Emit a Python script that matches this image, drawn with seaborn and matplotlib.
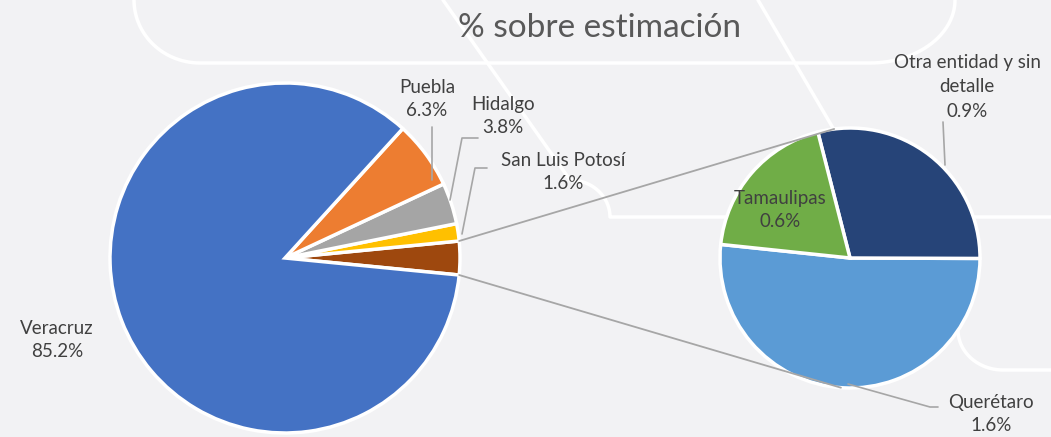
import numpy as np
import matplotlib
matplotlib.use("Agg")
import matplotlib.pyplot as plt
import seaborn as sns

# main pie (first item is the "other" slice broken out into the second pie)
main_labels = ['Otras', 'San Luis Potosí', 'Hidalgo', 'Puebla', 'Veracruz']
main_values = [3.1, 1.6, 3.8, 6.3, 85.2]
main_colors = ['#9E480E', '#FFC000', '#A5A5A5', '#ED7D31', '#4472C4']

# second pie
sub_labels = ['Querétaro', 'Otra entidad y sin\ndetalle', 'Tamaulipas']
sub_values = [1.6, 0.9, 0.6]
sub_colors = ['#5B9BD5', '#264478', '#70AD47']

title = '% sobre estimación'

sns.set_theme(style="white")
plt.rcParams['font.family'] = ['Lato', 'DejaVu Sans']

W, H = 1051, 437
bg = '#f2f2f4'
fig = plt.figure(figsize=(W / 100, H / 100), dpi=100, facecolor=bg)
ax = fig.add_axes([0, 0, 1, 1])
ax.set_facecolor(bg)


def py(y):
    return H - y


# decorative white background curves
t = np.linspace(0, np.pi / 2, 30)
bx = list(134 + 66 * (1 - np.cos(t))) + [870] + list(870 + 85 * np.sin(t))
byy = list(63 * np.sin(t)) + [63] + list(63 * np.cos(t))
ax.plot(bx, [py(v) for v in byy], color='white', lw=2.5, zorder=0)
bx2 = [443, 570] + list(570 + 40 * np.sin(t)) + [W]
by2 = [0, 180] + list(180 + 37 * (1 - np.cos(t))) + [217]
ax.plot(bx2, [py(v) for v in by2], color='white', lw=2.5, zorder=0)
ax.plot([758, 840], [py(0), py(140)], color='white', lw=2.5, zorder=0)
bx3 = list(958 + 45 * (1 - np.cos(t))) + [W]
by3 = list(330 + 40 * np.sin(t)) + [370]
ax.plot(bx3, [py(v) for v in by3], color='white', lw=2.5, zorder=0)

c1, r1 = (285, py(258)), 175
c2, r2 = (850, py(258)), 130

wprops = dict(edgecolor='white', linewidth=2.5)
w1, _ = ax.pie(main_values, colors=main_colors, center=c1, radius=r1,
               startangle=-main_values[0] * 3.6 / 2, counterclock=True,
               wedgeprops=wprops, frame=True)
w2, _ = ax.pie(sub_values, colors=sub_colors, center=c2, radius=r2,
               startangle=174, counterclock=True, wedgeprops=wprops, frame=True)

# connector lines from the "other" slice to the second pie
a_top, a_bot = np.radians(w1[0].theta2), np.radians(w1[0].theta1)
p1 = (c1[0] + r1 * np.cos(a_top), c1[1] + r1 * np.sin(a_top))
p2 = (c1[0] + r1 * np.cos(a_bot), c1[1] + r1 * np.sin(a_bot))
q1 = (c2[0] + r2 * np.cos(np.radians(97)), c2[1] + r2 * np.sin(np.radians(97)))
q2 = (c2[0] + r2 * np.cos(np.radians(266)), c2[1] + r2 * np.sin(np.radians(266)))
lc = '#a6a6a6'
ax.plot([p1[0], q1[0]], [p1[1], q1[1]], color=lc, lw=1.3, zorder=1)
ax.plot([p2[0], q2[0]], [p2[1], q2[1]], color=lc, lw=1.3, zorder=1)

tc = '#404040'
fs = 13.5


def lab(x, y, name, val):
    ax.text(x, py(y), f"{name}\n{val:.1f}%", ha='center', va='center',
            fontsize=fs, color=tc, linespacing=1.4, zorder=5)


lab(57, 340, 'Veracruz', main_values[4])
lab(427, 99, 'Puebla', main_values[3])
lab(503, 116, 'Hidalgo', main_values[2])
lab(563, 172, 'San Luis Potosí', main_values[1])
lab(780, 210, 'Tamaulipas', sub_values[2])
lab(991, 414, 'Querétaro', sub_values[0])
ax.text(967, py(87), f"{sub_labels[1]}\n{sub_values[1]:.1f}%", ha='center', va='center',
        fontsize=fs, color=tc, linespacing=1.55, zorder=5)

# leader lines
ax.plot([432, 432], [py(127), py(180)], color=lc, lw=1.2)
ax.plot([478, 462, 450], [py(138), py(138), py(200)], color=lc, lw=1.2)
ax.plot([487, 475, 462], [py(168), py(168), py(234)], color=lc, lw=1.2)
ax.plot([943, 945], [py(122), py(165)], color=lc, lw=1.2)
ax.plot([848, 930, 938], [py(384), py(407), py(407)], color=lc, lw=1.2)

ax.text(600, py(28), title, ha='center', va='center', fontsize=24, color='#595959')

ax.set_xlim(0, W)
ax.set_ylim(0, H)
ax.set_aspect('auto')
ax.axis('off')

fig.savefig('out.png', dpi=100, facecolor=bg)
